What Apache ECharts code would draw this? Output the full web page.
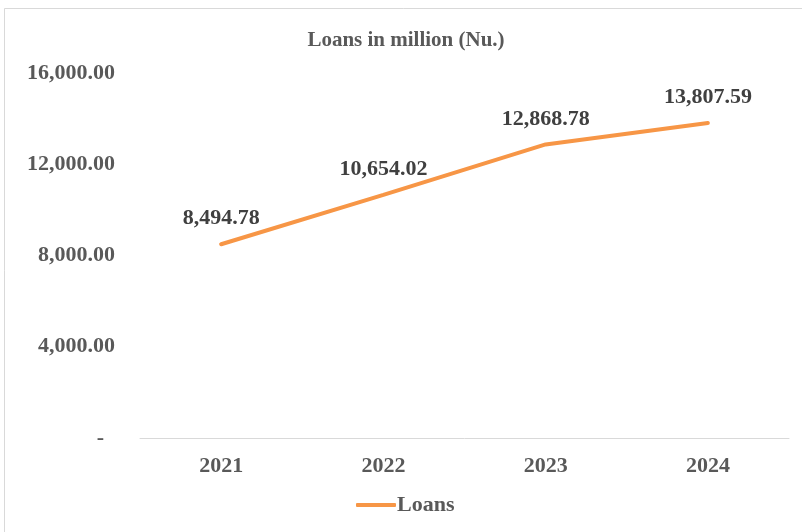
<!DOCTYPE html>
<html>
<head>
<meta charset="utf-8">
<script src="https://cdn.jsdelivr.net/npm/echarts@6/dist/echarts.min.js"></script>
<style>
html,body{margin:0;padding:0;background:#fff;}
#chart{width:802px;height:532px;}
</style>
</head>
<body>
<div id="chart"></div>
<script>
const categories = ['2021', '2022', '2023', '2024'];
const loans = [8494.78, 10654.02, 12868.78, 13807.59];
const yTicks = [0, 4000, 8000, 12000, 16000];
const seriesName = 'Loans';
const titleText = 'Loans in million (Nu.)';

const fontFam = '"Liberation Serif", "Times New Roman", serif';
function fmt(v) {
  return v.toLocaleString('en-US', {minimumFractionDigits: 2, maximumFractionDigits: 2});
}

const chart = echarts.init(document.getElementById('chart'), null, {renderer: 'canvas'});
chart.setOption({
  backgroundColor: '#fff',
  animation: false,
  graphic: [{
    type: 'rect',
    shape: {x: 4.5, y: 8.5, width: 900, height: 700},
    style: {fill: 'none', stroke: '#d9d9d9', lineWidth: 1},
    silent: true, z: -1
  }],
  title: {
    text: titleText,
    left: 401, top: 25, textAlign: 'center',
    textStyle: {fontFamily: fontFam, fontWeight: 'bold', fontSize: 21, color: '#595959'}
  },
  legend: {
    data: [seriesName],
    bottom: 11, left: 351,
    itemWidth: 40, itemHeight: 4, itemGap: 2,
    icon: 'roundRect',
    textStyle: {fontFamily: fontFam, fontWeight: 'bold', fontSize: 22, color: '#595959', padding: [0,0,0,-4]}
  },
  grid: {left: 140, right: 13, top: 73, bottom: 94, containLabel: false},
  xAxis: {
    type: 'category',
    data: categories,
    boundaryGap: true,
    axisLine: {lineStyle: {color: '#d9d9d9', width: 1}},
    axisTick: {show: false},
    axisLabel: {fontFamily: fontFam, fontWeight: 'bold', fontSize: 22, color: '#595959', margin: 17}
  },
  yAxis: {
    type: 'value',
    min: yTicks[0], max: yTicks[yTicks.length - 1], interval: 4000,
    splitLine: {show: false},
    axisLine: {show: false},
    axisTick: {show: false},
    axisLabel: {
      fontFamily: fontFam, fontWeight: 'bold', fontSize: 22, color: '#595959', margin: 25,
      formatter: v => v === 0 ? '-  ' : fmt(v)
    }
  },
  series: [{
    name: seriesName,
    type: 'line',
    data: loans,
    symbol: 'circle',
    symbolSize: 1,
    showSymbol: true,
    lineStyle: {color: '#F79646', width: 4, cap: 'round'},
    itemStyle: {color: '#F79646'},
    label: {
      show: true, position: 'top', distance: 14,
      formatter: p => fmt(p.value),
      fontFamily: fontFam, fontWeight: 'bold', fontSize: 22, color: '#404040'
    }
  }]
});
</script>
</body>
</html>
